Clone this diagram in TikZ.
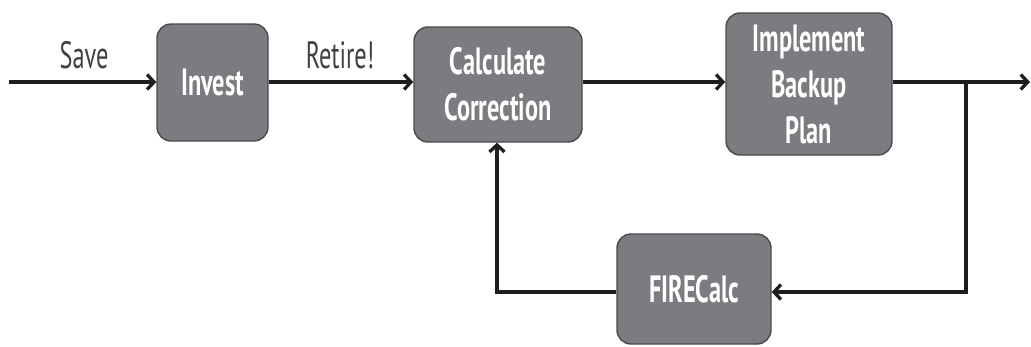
\documentclass[tikz,border=0pt]{standalone}
\usepackage{fontspec}
\usetikzlibrary{arrows.meta}
\setmainfont{PT Sans}
\definecolor{boxfill}{HTML}{7B7C80}
\definecolor{boxedge}{HTML}{4A4A4C}
\definecolor{ink}{HTML}{1E1E1E}
% horizontally condensed text
\newcommand{\cond}[1]{\scalebox{0.64}[1]{#1}}
\begin{document}
\begin{tikzpicture}[x=1pt,y=-1pt,
  stepbox/.style={draw=boxedge, line width=1.4pt, fill=boxfill, rounded corners=14pt,
    inner sep=0pt, align=center, text=white,
    font=\bfseries\fontsize{38}{46}\selectfont},
  arrowline/.style={draw=ink, line width=3.3pt, -{Straight Barb[length=7pt,width=15pt]}},
  wire/.style={draw=ink, line width=3.3pt},
  lbl/.style={text=ink!85, font=\fontsize{38}{40}\selectfont}]
\useasboundingbox (0,0) rectangle (1031,346);

% process boxes
\node[stepbox, minimum width=111pt, minimum height=117pt] (invest) at (212.5,82.5) {\cond{Invest}};
\node[stepbox, minimum width=168pt, minimum height=115pt] (calc) at (498,84.5) {\cond{Calculate}\\\cond{Correction}};
\node[stepbox, minimum width=166pt, minimum height=142pt] (impl) at (809,84) {\cond{Implement}\\\cond{Backup}\\\cond{Plan}};
\node[stepbox, minimum width=154pt, minimum height=110pt] (fire) at (694,289) {\cond{FIRECalc}};

% free ends and bends
\coordinate (start) at (9,82);
\coordinate (finish) at (1030,82);
\coordinate (branch) at (966,82);
\coordinate (lowright) at (966,292);
\coordinate (lowleft) at (497,292);

% forward path
\draw[arrowline] (start) -- (invest.west |- start);
\draw[arrowline] (invest.east |- start) -- (calc.west |- start);
\draw[arrowline] (calc.east |- start) -- (impl.west |- start);
\draw[arrowline] (impl.east |- start) -- (finish);

% feedback loop
\draw[wire, line width=3.6pt] (branch) -- (lowright);
\draw[arrowline] ([xshift=1.8pt]lowright) -- (fire.east |- lowright);
\draw[wire, line width=3.8pt] (fire.west |- lowleft) -- (lowleft);
\draw[arrowline] ([yshift=-1.9pt]lowleft) -- (lowleft |- calc.south);

% labels
\node[lbl] (save) at (84,55) {\cond{Save}};
\node[lbl] (retire) at (340,55) {\cond{Retire!}};
\end{tikzpicture}
\end{document}
